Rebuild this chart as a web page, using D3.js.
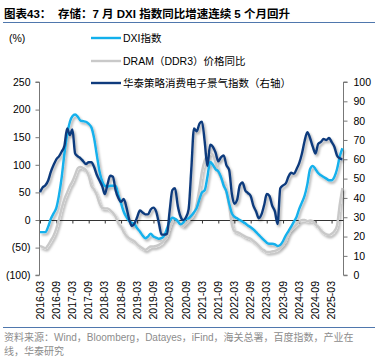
<!DOCTYPE html>
<html><head><meta charset="utf-8">
<script src="https://cdn.jsdelivr.net/npm/d3@7"></script>
<style>
html,body{margin:0;padding:0;background:#fff;}
svg{display:block;}
</style></head>
<body>
<svg id="c" width="386" height="361"></svg>
<script>
// ---- data ----
const startMonth = "2016-03";
const endMonth = "2025-07";
const tickLabels = ["2016-03","2016-09","2017-03","2017-09","2018-03","2018-09","2019-03","2019-09","2020-03","2020-09","2021-03","2021-09","2022-03","2022-09","2023-03","2023-09","2024-03","2024-09","2025-03"];
const leftTicks = [-100,-50,0,50,100,150,200,250];
const rightTicks = [0,10,20,30,40,50,60,70,80,90,100];
const seriesNames = ["DXI指数","DRAM（DDR3）价格同比","华泰策略消费电子景气指数（右轴）"];

const dxi = [
-22,-22,-22,-12,2,12,22,45,78,120,
155,178,188,191,187,180,179,178,174,168,
148,118,88,70,62,60,62,62,62,45,
30,15,5,-2,-5,-8,-15,-21,-28,-33,
-30,-25,-30,-32,-34,-33,-28,-15,-2,4,
2,-2,-8,-5,2,3,8,14,22,38,
50,54,78,105,100,92,88,78,62,52,
30,12,6,3,0,-3,-6,-10,-13,-17,
-22,-27,-32,-37,-41,-43,-43,-44,-47,-45,
-38,-28,-20,-12,-3,6,20,32,44,65,
92,98,92,85,81,78,75,72,72,78,
92,115,130];

const dram = [
-47,-49,-51,-45,-37,-28,-15,2,22,38,
50,62,70,82,94,96,94,90,80,62,
55,45,30,22,21,21,18,13,6,-6,
-12,-22,-29,-33,-36,-39,-44,-48,-51,-54,
-51,-48,-48,-47,-45,-42,-36,-30,-15,-2,
2,-1,-6,-11,-6,-1,4,12,30,58,
88,108,118,122,118,104,86,76,68,50,
25,-8,-20,-22,-24,-27,-30,-32,-34,-38,
-42,-47,-52,-55,-58,-58,-57,-56,-54,-50,
-45,-38,-25,-18,-13,-8,-3,0,0,-2,
-1,-2,-8,-12,-19,-23,-26,-27,-25,-20,
-10,28,58];

const idx = [
43,45.5,46.5,49,53.5,57,60,61.5,64,67,
76,72.5,75.5,63,61.5,60.5,59,57.5,58.5,58.5,
56,52,49,46,42,47,51.5,51,44,40,
38,39.5,35,29,25.5,27,30,33.5,32.5,31.5,
31.5,34,35,33,27,21,21,21.5,33,44,
45,36,30.5,28.5,30,34,55,76,74.5,78.5,
79.5,69,56.5,67.5,66.5,63.5,59,61,62,57,
54.5,42,37,39,46.5,48,44,42.5,41,36,
33,29.5,31.5,36.5,42,41,36,33,26.5,45,
46.5,47.5,51,53,52.5,55,58,63,69.5,74,
71,66.5,63,68,69,70.5,70,71,69,66.5,
62,60.5,60];

// ---- layout ----
const svg = d3.select("#c");
const X0 = 40, X1 = 342.4, YT = 82, YB = 275.2;
const parse = d3.timeParse("%Y-%m");
const months = d3.timeMonth.range(parse(startMonth), d3.timeMonth.offset(parse(endMonth),1));
const x = d3.scaleTime().domain([parse(startMonth), parse(endMonth)]).range([X0, X1]);
const yL = d3.scaleLinear().domain([-100,250]).range([YB, YT]);
const yR = d3.scaleLinear().domain([0,100]).range([YB, YT]);

const cjk = "'Liberation Sans', Arial, 'Noto Sans CJK SC', sans-serif";

const defs = svg.append("defs");
const f = defs.append("filter").attr("id","sh").attr("x","-10%").attr("y","-10%").attr("width","130%").attr("height","130%");
f.append("feDropShadow").attr("dx",1.6).attr("dy",2.2).attr("stdDeviation",1.3).attr("flood-color","#000").attr("flood-opacity",0.32);

// title
svg.append("text").attr("x",4).attr("y",18).attr("font-family",cjk).attr("font-weight","bold")
  .attr("font-size","11.5px").attr("fill","#000").text("图表43：");
svg.append("text").attr("x",58).attr("y",18).attr("font-family",cjk).attr("font-weight","bold")
  .attr("font-size","11.5px").attr("fill","#000").text("存储：7 月 DXI 指数同比增速连续 5 个月回升");
svg.append("line").attr("x1",3).attr("x2",375).attr("y1",22.5).attr("y2",22.5).attr("stroke","#4f77ad").attr("stroke-width",1.2);

// (%) label
svg.append("text").attr("x",9).attr("y",42).attr("font-family",cjk).attr("font-size","10.5px").attr("fill","#000").text("(%)");

// left axis
const gL = svg.append("g").attr("transform",`translate(39.5,0)`)
  .call(d3.axisLeft(yL).tickValues(leftTicks).tickSize(4).tickPadding(5)
    .tickFormat(d => d < 0 ? `(${Math.abs(d)})` : d));
gL.select(".domain").attr("stroke","#777").attr("d",`M-4,${YT}H0V${YB}H-4`);
gL.selectAll(".tick line").attr("stroke","#777");
gL.selectAll("text").attr("font-family",cjk).attr("font-size","10.5px").attr("fill","#000");

// right axis
const gR = svg.append("g").attr("transform",`translate(343.5,0)`)
  .call(d3.axisRight(yR).tickValues(rightTicks).tickSize(4).tickPadding(6));
gR.select(".domain").attr("stroke","#777").attr("d",`M4,${YT}H0V${YB}H4`);
gR.selectAll(".tick line").attr("stroke","#777");
gR.selectAll("text").attr("font-family",cjk).attr("font-size","10.5px").attr("fill","#000");

// zero line with ticks
const zy = Math.round(yL(0)) + 0.5;
svg.append("line").attr("x1",39.5).attr("x2",343.5).attr("y1",zy).attr("y2",zy).attr("stroke","#333").attr("stroke-width",1);
const gX = svg.append("g").attr("transform",`translate(0,${zy})`)
  .call(d3.axisBottom(x).tickValues(tickLabels.map(parse)).tickSize(3).tickFormat(""));
gX.select(".domain").remove();
gX.selectAll(".tick line").attr("stroke","#333");

// x labels at bottom
svg.append("g").selectAll("text").data(tickLabels).join("text")
  .attr("transform", d => `translate(${x(parse(d))},281) rotate(-90)`)
  .attr("text-anchor","end").attr("dy","0.35em")
  .attr("font-family",cjk).attr("font-size","10.5px").attr("fill","#000")
  .text(d => d);

// lines
const lineL = d3.line().x((d,i)=>x(months[i])).y(d=>yL(d)).curve(d3.curveMonotoneX);
const lineR = d3.line().x((d,i)=>x(months[i])).y(d=>yR(d)).curve(d3.curveMonotoneX);
const gLines = svg.append("g").attr("filter","url(#sh)");
gLines.append("path").attr("d",lineL(dram)).attr("fill","none").attr("stroke","#c9c9c9").attr("stroke-width",2.4).attr("stroke-linejoin","round");
gLines.append("path").attr("d",lineL(dxi)).attr("fill","none").attr("stroke","#12b0ec").attr("stroke-width",2.4).attr("stroke-linejoin","round");
gLines.append("path").attr("d",lineR(idx)).attr("fill","none").attr("stroke","#0f3b7d").attr("stroke-width",2.4).attr("stroke-linejoin","round");

// legend
const legColors = ["#12b0ec","#c9c9c9","#0f3b7d"];
const legY = [38, 61, 83];
const lg = svg.append("g");
seriesNames.forEach((n,i)=>{
  lg.append("line").attr("x1",91).attr("x2",121).attr("y1",legY[i]).attr("y2",legY[i])
    .attr("stroke",legColors[i]).attr("stroke-width",2.4);
  lg.append("text").attr("x",123).attr("y",legY[i]).attr("dy","0.35em")
    .attr("font-family",cjk).attr("font-size","10.5px").attr("fill","#000").text(n);
});

// footer
svg.append("line").attr("x1",3).attr("x2",375).attr("y1",327.5).attr("y2",327.5).attr("stroke","#4f77ad").attr("stroke-width",1);
svg.append("text").attr("x",4).attr("y",341).attr("font-family",cjk).attr("font-size","10px").attr("fill","#8c8c8c")
  .text("资料来源：Wind，Bloomberg，Datayes，iFind，海关总署，百度指数，产业在");
svg.append("text").attr("x",4).attr("y",355).attr("font-family",cjk).attr("font-size","10px").attr("fill","#8c8c8c")
  .text("线，华泰研究");
</script>
</body></html>
